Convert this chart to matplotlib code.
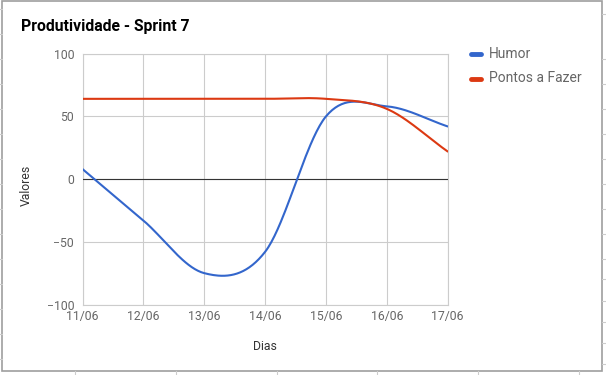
import numpy as np
import matplotlib
matplotlib.use('Agg')
import matplotlib.pyplot as plt
from matplotlib.lines import Line2D
from matplotlib.patches import Rectangle

# data
dias = ['11/06', '12/06', '13/06', '14/06', '15/06', '16/06', '17/06']
humor = [8, -33, -75, -58, 50, 58, 42]
pontos = [64, 64, 64, 64, 64, 56, 22]
series_names = ['Humor', 'Pontos a Fazer']
series_colors = ['#3366cc', '#dc3912']

W, H = 606, 375
plt.rcParams['font.family'] = ['Roboto', 'DejaVu Sans']


def smooth(xs, ys, n=40):
    # cubic hermite with catmull-rom tangents (like google "function" curves)
    xs = np.asarray(xs, float)
    ys = np.asarray(ys, float)
    m = np.gradient(ys, xs)
    out_x, out_y = [], []
    for i in range(len(xs) - 1):
        t = np.linspace(0, 1, n)
        h = xs[i + 1] - xs[i]
        h00 = 2 * t**3 - 3 * t**2 + 1
        h10 = t**3 - 2 * t**2 + t
        h01 = -2 * t**3 + 3 * t**2
        h11 = t**3 - t**2
        out_x.append(xs[i] + t * h)
        out_y.append(h00 * ys[i] + h10 * h * m[i] + h01 * ys[i + 1] + h11 * h * m[i + 1])
    return np.concatenate(out_x), np.concatenate(out_y)


def px(x, y):
    return x / W, 1 - y / H


fig = plt.figure(figsize=(W / 100, H / 100), dpi=100)
fig.patch.set_facecolor('white')

left, top, right, bottom = 82.5, 53.7, 447.7, 304.5
ax = fig.add_axes([left / W, 1 - bottom / H, (right - left) / W, (bottom - top) / H])

x = np.arange(len(dias))
for vals, name, col in zip([humor, pontos], series_names, series_colors):
    sx, sy = smooth(x, vals)
    ax.plot(sx, sy, color=col, lw=1.5, solid_capstyle='round', zorder=4)

ax.axhline(0, color='#333333', lw=0.8, zorder=3)
ax.set_xlim(0, len(dias) - 1)
ax.set_ylim(-100, 100)
ax.set_xticks(x)
ax.set_xticklabels(dias)
ax.set_yticks([-100, -50, 0, 50, 100])
ax.grid(True, color='#cccccc', lw=0.8)
ax.set_axisbelow(True)
for s in ax.spines.values():
    s.set_color('#cccccc')
    s.set_linewidth(0.8)
ax.tick_params(length=0, labelsize=8.8, colors='#666666', pad=6)
ax.tick_params(axis='x', pad=4)
ax.set_xlabel('Dias', fontsize=8.8, color='#333333', labelpad=12)

# axis title, title
fig.text(*px(26, 185), 'Valores', rotation=90, ha='center', va='center',
         fontsize=8.8, color='#333333')
fig.text(*px(21, 26), 'Produtividade - Sprint 7', ha='left', va='center',
         fontsize=11.3, fontweight='bold', color='#000000')

# legend
for i, (name, col) in enumerate(zip(series_names, series_colors)):
    yy = 54 + i * 24.5
    fig.add_artist(Line2D([471 / W, 481 / W], [1 - yy / H] * 2, color=col, lw=3.5,
                          solid_capstyle='round', transform=fig.transFigure))
    fig.text(*px(489, yy), name, ha='left', va='center', fontsize=10, color='#666666')

# outer frame and sheet ticks
fig.add_artist(Rectangle((2 / W, 1 - 371 / H), 600 / W, 370 / H, fill=False,
                         edgecolor='#9e9e9e', lw=1.2, transform=fig.transFigure))
for yy in range(9, 371, 25):
    fig.add_artist(Line2D([0, 2 / W], [1 - yy / H] * 2, color='#cccccc', lw=0.8,
                          transform=fig.transFigure))
for yy in [14, 59, 84, 109, 134, 159, 184, 209, 234, 259, 279, 301, 322, 343, 364]:
    fig.add_artist(Line2D([602 / W, 1], [1 - yy / H] * 2, color='#cccccc', lw=0.8,
                          transform=fig.transFigure))
for xx in [75, 176, 277, 377, 478, 579]:
    fig.add_artist(Line2D([xx / W] * 2, [0, 1 - 371 / H], color='#cccccc', lw=0.8,
                          transform=fig.transFigure))

fig.savefig('out.png', dpi=100)
